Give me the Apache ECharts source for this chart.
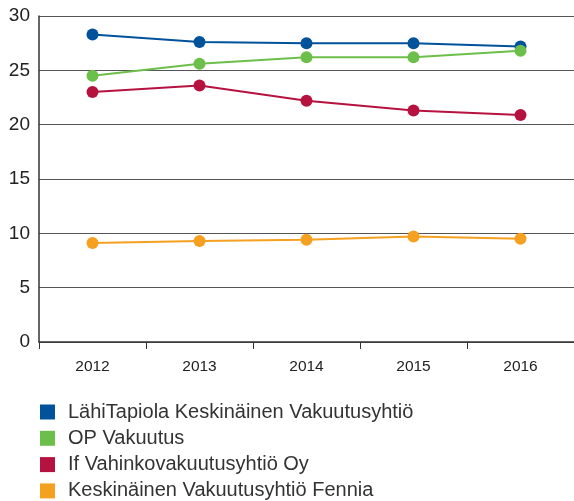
<!DOCTYPE html>
<html><head><meta charset="utf-8">
<script src="https://cdn.jsdelivr.net/npm/echarts@6/dist/echarts.min.js"></script>
<style>html,body{margin:0;padding:0;background:#fff}#c{width:574px;height:501px}</style>
</head><body><div id="c"></div>
<script>
var years = ['2012','2013','2014','2015','2016'];
var names = ['LähiTapiola Keskinäinen Vakuutusyhtiö','OP Vakuutus','If Vahinkovakuutusyhtiö Oy','Keskinäinen Vakuutusyhtiö Fennia'];
var lahiTapiola = [28.3, 27.6, 27.5, 27.5, 27.2];
var opVakuutus = [24.5, 25.6, 26.2, 26.2, 26.8];
var ifVahinko = [23.0, 23.6, 22.2, 21.3, 20.9];
var fennia = [9.1, 9.3, 9.4, 9.7, 9.5];
var colors = ['#00529b','#6dbf4b','#b5123f','#f5a021'];
var seriesData = [lahiTapiola, opVakuutus, ifVahinko, fennia];
var font = 'Liberation Sans, Arial, sans-serif';
var chart = echarts.init(document.getElementById('c'));
chart.setOption({
  animation:false,
  color: colors,
  grid:{left:39, top:16, width:540, bottom:159, containLabel:false},
  legend: names.map(function(n,i){return {orient:'horizontal', left:40, top:402+i*26.3, padding:0, icon:'rect',
    itemWidth:15, itemHeight:15,
    textStyle:{fontFamily:font, fontSize:20, color:'#333', padding:[0,0,0,8]},
    data:[n]};}),
  xAxis:{type:'category', data:years, boundaryGap:true,
    axisLine:{lineStyle:{color:'#333', width:1.5}},
    axisTick:{show:true, length:7, lineStyle:{color:'#333'}},
    axisLabel:{fontFamily:font, fontSize:15.5, color:'#222', margin:17}},
  yAxis:{type:'value', min:0, max:30, interval:5,
    axisLine:{show:true, lineStyle:{color:'#333', width:1.5}},
    axisTick:{show:false},
    splitLine:{lineStyle:{color:'#555', width:1.2}},
    axisLabel:{fontFamily:font, fontSize:19, color:'#222', margin:9}},
  series: seriesData.map(function(d,i){return {name:names[i], type:'line', data:d, symbol:'circle', symbolSize:12,
    lineStyle:{width:2, color:colors[i]}, itemStyle:{color:colors[i]}};})
});
</script></body></html>
